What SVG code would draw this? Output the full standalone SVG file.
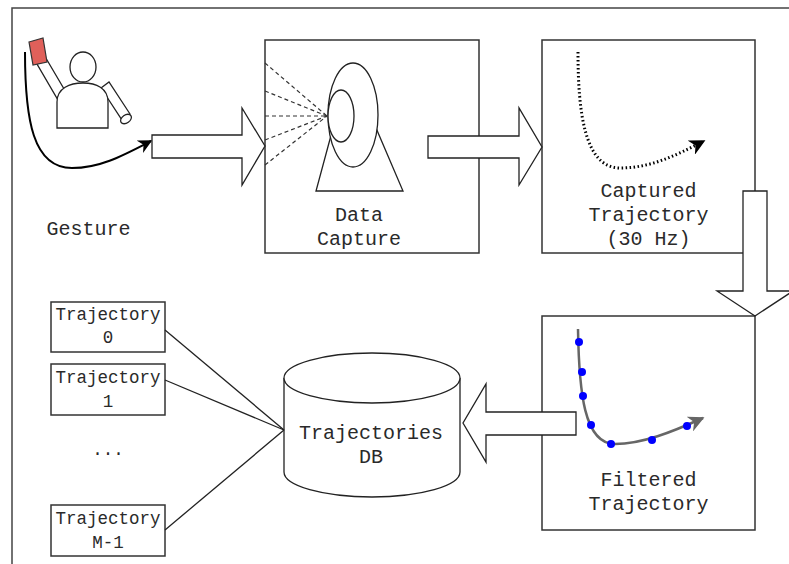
<svg xmlns="http://www.w3.org/2000/svg" width="789" height="564" viewBox="0 0 789 564">
  <defs>
    <style>
      .box { fill: #fff; stroke: #333; stroke-width: 1.5; }
      .ln { fill: none; stroke: #222; stroke-width: 1.3; }
      .outline { fill: #fff; stroke: #222; stroke-width: 1.3; }
      .lbl { font-family: "Liberation Mono", "Courier New", monospace; font-size: 20px; fill: #2a2a2a; text-anchor: middle; }
      .sm { font-family: "Liberation Mono", "Courier New", monospace; font-size: 17.5px; fill: #2a2a2a; text-anchor: middle; }
      .dot { fill: #0000ff; }
    </style>
    <marker id="blk" viewBox="0 0 10 10" refX="9" refY="5" markerWidth="7" markerHeight="7" orient="auto" markerUnits="strokeWidth">
      <path d="M0,0 L10,5 L0,10 L3,5 Z" fill="#000"/>
    </marker>
    <marker id="blk2" viewBox="0 0 10 10" refX="9" refY="5" markerWidth="16" markerHeight="16" orient="auto" markerUnits="userSpaceOnUse">
      <path d="M0,0 L10,5 L0,10 L3,5 Z" fill="#000"/>
    </marker>
    <marker id="gry" viewBox="0 0 10 10" refX="9" refY="5" markerWidth="6.5" markerHeight="6.5" orient="auto" markerUnits="strokeWidth">
      <path d="M0,0 L10,5 L0,10 L3,5 Z" fill="#666"/>
    </marker>
  </defs>

  <rect width="789" height="564" fill="#fff"/>

  <!-- page frame -->
  <path d="M12,564 L12,8 L789,8" fill="none" stroke="#444" stroke-width="1.5"/>

  <!-- gesture: person waving a marker -->
  <g id="gesture">
    <!-- raised arm -->
    <polygon class="outline" points="37,64 47,60 67,94 58,100"/>
    <!-- marker held in hand -->
    <polygon points="29,42 43,38 47,62 33,65" fill="#e0605a" stroke="#333" stroke-width="1.2"/>
    <!-- lowered arm -->
    <polygon class="outline" points="101,88 109,82 130,114 122,120"/>
    <ellipse cx="126" cy="119" rx="6" ry="4" transform="rotate(-35 126 119)" class="outline"/>
    <!-- torso -->
    <path class="outline" d="M57,128 L57,102 C57,88 70,83 83,83 C96,83 108,88 108,102 L108,128 Z"/>
    <!-- head -->
    <ellipse cx="83" cy="67" rx="13" ry="15" class="outline"/>
    <!-- motion path -->
    <path d="M25,52 C25,120 33,168 72,168 C100,168 122,156 151,141" fill="none" stroke="#000" stroke-width="2" marker-end="url(#blk)"/>
    <text class="lbl" x="88.5" y="235">Gesture</text>
  </g>

  <!-- data capture -->
  <g id="data-capture">
    <rect class="box" x="265" y="40" width="214" height="213"/>
    <g stroke="#333" stroke-width="1.2" stroke-dasharray="4 3" fill="none">
      <line x1="265" y1="63" x2="327" y2="116"/>
      <line x1="265" y1="91" x2="327" y2="116"/>
      <line x1="265" y1="116" x2="327" y2="116"/>
      <line x1="265" y1="140" x2="327" y2="116"/>
      <line x1="265" y1="165" x2="327" y2="116"/>
    </g>
    <polygon class="outline" points="333,128 316,191 403,191 376,128"/>
    <ellipse class="outline" cx="353" cy="115" rx="25" ry="52"/>
    <ellipse class="outline" cx="341" cy="116" rx="13" ry="26"/>
    <text class="lbl" x="359" y="221">Data</text>
    <text class="lbl" x="359" y="245">Capture</text>
  </g>

  <!-- captured trajectory -->
  <g id="captured-trajectory">
    <rect class="box" x="542" y="40" width="213" height="213"/>
    <path d="M578,52 C578,110 584,168 620,168 C650,168 675,156 704,141" fill="none" stroke="#000" stroke-width="3" stroke-dasharray="1.5 2.5" marker-end="url(#blk2)"/>
    <text class="lbl" x="648.5" y="197">Captured</text>
    <text class="lbl" x="648.5" y="221">Trajectory</text>
    <text class="lbl" x="648.5" y="245">(30 Hz)</text>
  </g>

  <!-- filtered trajectory -->
  <g id="filtered-trajectory">
    <rect class="box" x="542" y="316" width="213" height="214"/>
    <path d="M578,329 C579,392 584,444 615,444 C642,444 672,432 703,418" fill="none" stroke="#666" stroke-width="2.5" marker-end="url(#gry)"/>
    <circle class="dot" cx="579" cy="342" r="4"/>
    <circle class="dot" cx="582" cy="372" r="4"/>
    <circle class="dot" cx="583" cy="396" r="4"/>
    <circle class="dot" cx="591" cy="425" r="4"/>
    <circle class="dot" cx="611" cy="444" r="4"/>
    <circle class="dot" cx="652" cy="440" r="4"/>
    <circle class="dot" cx="687" cy="426" r="4"/>
    <text class="lbl" x="648.5" y="486">Filtered</text>
    <text class="lbl" x="648.5" y="510">Trajectory</text>
  </g>

  <!-- trajectory database -->
  <g id="trajectories-db">
    <path class="outline" d="M284,378 L284,472 A88,25 0 0 0 460,472 L460,378"/>
    <ellipse class="outline" cx="372" cy="378" rx="88" ry="25"/>
    <text class="lbl" x="371" y="439">Trajectories</text>
    <text class="lbl" x="371" y="463">DB</text>
  </g>

  <!-- stored trajectories -->
  <g id="trajectory-0">
    <rect class="box" x="51" y="302" width="114" height="50"/>
    <text class="sm" x="108" y="320">Trajectory</text>
    <text class="sm" x="108" y="343">0</text>
  </g>
  <g id="trajectory-1">
    <rect class="box" x="51" y="364" width="114" height="51"/>
    <text class="sm" x="108" y="383">Trajectory</text>
    <text class="sm" x="108" y="407">1</text>
  </g>
  <g id="ellipsis">
    <text class="sm" x="108" y="455">...</text>
  </g>
  <g id="trajectory-m-1">
    <rect class="box" x="51" y="505" width="114" height="51"/>
    <text class="sm" x="108" y="524">Trajectory</text>
    <text class="sm" x="108" y="548">M-1</text>
  </g>

  <!-- connectors -->
  <g id="connectors">
    <!-- block arrows between stages -->
    <polygon class="outline" points="152,135 242,135 242,108 265,146 242,185 242,158 152,158"/>
    <polygon class="outline" points="428,136 519,136 519,108 542,147 519,185 519,158 428,158"/>
    <polygon class="outline" points="743,191 767,191 767,291 793,291 755,316 717,291 743,291"/>
    <polygon class="outline" points="576,412 486,412 486,384 463,423 486,462 486,435 576,435"/>
    <!-- links from stored trajectories to the database -->
    <line class="ln" x1="165" y1="330" x2="284" y2="430"/>
    <line class="ln" x1="165" y1="380" x2="284" y2="430"/>
    <line class="ln" x1="165" y1="530" x2="284" y2="430"/>
  </g>
</svg>
